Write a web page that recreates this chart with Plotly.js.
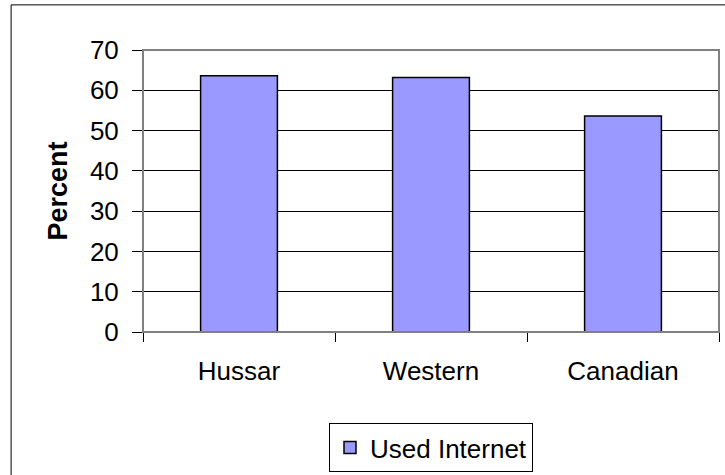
<!DOCTYPE html>
<html>
<head>
<meta charset="utf-8">
<script src="https://cdn.plot.ly/plotly-3.0.1.min.js"></script>
<style>html,body{margin:0;padding:0;background:#fff;}#chart{width:725px;height:475px;}</style>
</head>
<body>
<div id="chart"></div>
<script>
var categories = ["Hussar", "Western", "Canadian"];
var usedInternet = [63.6, 63.2, 53.6];
var seriesName = "Used Internet";
var yTickVals = [0, 10, 20, 30, 40, 50, 60, 70];

var trace = {
  type: "bar",
  x: categories,
  y: usedInternet,
  name: seriesName,
  marker: {color: "#9999FF", line: {color: "#000000", width: 1.5}},
  hoverinfo: "none"
};

var layout = {
  width: 725,
  height: 475,
  margin: {l: 143, r: 6, t: 50, b: 143, autoexpand: false},
  paper_bgcolor: "#ffffff",
  plot_bgcolor: "#ffffff",
  font: {family: "Liberation Sans, Arial, sans-serif", size: 26, color: "#000000"},
  bargap: 0.6,
  showlegend: true,
  legend: {
    x: 0.5, xanchor: "center",
    y: -0.3227, yanchor: "top",
    orientation: "h",
    bordercolor: "#000000", borderwidth: 1,
    font: {size: 26, color: "#000000"},
    bgcolor: "#ffffff"
  },
  xaxis: {
    type: "category",
    showline: true, linecolor: "#000000", linewidth: 1,
    ticks: "outside", tickson: "boundaries", ticklen: 9, tickcolor: "#000000",
    showgrid: false, zeroline: false,
    ticklabelstandoff: 16,
    tickfont: {size: 26}
  },
  yaxis: {
    range: [0, 70],
    tickvals: yTickVals,
    showline: true, linecolor: "#000000", linewidth: 1,
    ticks: "outside", ticklen: 10, tickcolor: "#000000",
    showgrid: true, gridcolor: "#000000", gridwidth: 1,
    zeroline: false,
    ticklabelstandoff: 8,
    tickfont: {size: 26},
    title: {text: "<b>Percent</b>", font: {size: 27}, standoff: 14}
  },
  shapes: [
    {type: "rect", xref: "paper", yref: "paper", x0: 0, x1: 1, y0: 0, y1: 1,
     line: {color: "#808080", width: 2}, layer: "above"},
    {type: "rect", xref: "paper", yref: "paper", x0: -0.229, x1: 1.02, y0: -0.52, y1: 1.16,
     line: {color: "#000000", width: 1}, layer: "below"}
  ]
};

Plotly.newPlot("chart", [trace], layout, {displayModeBar: false, staticPlot: true});
</script>
</body>
</html>
